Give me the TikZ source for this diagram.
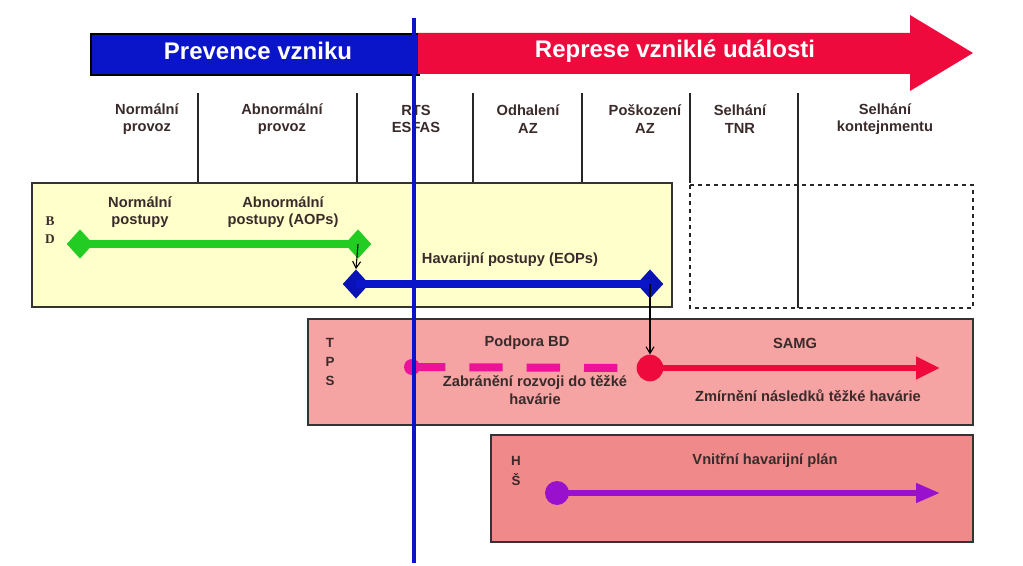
\documentclass[tikz,border=0pt]{standalone}
\usepackage{fontspec}
\setmainfont{Liberation Sans}
\newfontfamily\serifx{Liberation Serif}
\usetikzlibrary{arrows.meta,shapes.geometric}
\definecolor{yel}{HTML}{FFFFCC}
\definecolor{pinkbox}{HTML}{F5A3A3}
\definecolor{hsbox}{HTML}{F08A8A}
\definecolor{redar}{HTML}{EE0A3C}
\definecolor{magd}{HTML}{EE1199}
\definecolor{purp}{HTML}{9911CC}
\definecolor{greenl}{HTML}{22CC22}
\definecolor{bluel}{HTML}{0A14C8}
\definecolor{txt}{HTML}{3A2A2A}
\begin{document}
\begin{tikzpicture}[x=0.75pt,y=-0.75pt,
  lbl/.style={font=\bfseries\fontsize{11}{13}\selectfont,text=txt,align=center},
  sep/.style={line width=1.2pt,black!85},
  box/.style={draw=black!80,line width=1.8pt},
  dmd/.style={diamond,minimum width=20pt,minimum height=22pt,inner sep=0pt},
  dot/.style={circle,inner sep=0pt,minimum size=#1}]
\useasboundingbox (0,0) rectangle (1023,566);
% header
\node[draw=black,line width=1.2pt,fill=bluel,minimum width=328*0.75pt,minimum height=41*0.75pt,anchor=north west,inner sep=0pt] (prev) at (90,33) {};
\node[text=white,font=\bfseries\fontsize{18}{20}\selectfont] (prevt) at (258,51) {Prevence vzniku};
\fill[redar] (418,33) -- (910,33) -- (910,15) -- (973,53) -- (910,91) -- (910,74) -- (418,74) -- cycle;
\node[text=white,font=\bfseries\fontsize{18}{20}\selectfont] (rept) at (675,51) {Represe vzniklé události};
% columns
\foreach \x in {198,357,473,582,690} \draw[sep] (\x,93) -- (\x,183);
\draw[sep] (798,93) -- (798,308);
\node[lbl] (c1) at (147,119) {Normální\\provoz};
\node[lbl] (c2) at (282,119) {Abnormální\\provoz};
\node[lbl] (c3) at (416,119) {RTS\\ESFAS};
\node[lbl] (c4) at (528,119) {Odhalení\\AZ};
\node[lbl] (c5) at (645,119) {Poškození\\AZ};
\node[lbl] (c6) at (740,119) {Selhání\\TNR};
\node[lbl] (c7) at (885,119) {Selhání\\kontejnmentu};
% BD
\draw[box,fill=yel] (32,183) rectangle (672,307);
\draw[line width=1.8pt,dashed,black!85] (690,185) rectangle (973,308);
\node[font=\serifx\bfseries\fontsize{10}{14}\selectfont,text=txt,align=center] (bd) at (50,230) {B\\D};
\node[lbl] (np) at (140,212) {Normální\\postupy};
\node[lbl] (ap) at (283,212) {Abnormální\\postupy (AOPs)};
\node[dmd,fill=greenl] (g1) at (80,244) {};
\node[dmd,fill=greenl] (g2) at (358,244) {};
\draw[greenl,line width=6pt] (g1.center) -- (g2.center);
\node[dmd,fill=bluel!90!black] (b1) at (356,284) {};
\node[dmd,fill=bluel!90!black] (b2) at (650,284) {};
\draw[bluel,line width=6pt] (b1.center) -- (b2.center);
\node[lbl] (eop) at (510,260) {Havarijní postupy (EOPs)};
\draw[-{Straight Barb[length=5pt,width=6pt]},black,line width=0.8pt] (g2.center) -- (b1.north);
% TPS
\draw[box,fill=pinkbox] (308,319) rectangle (973,425);
\node[lbl,font=\bfseries\fontsize{10}{14.5}\selectfont] (tps) at (330,362) {T\\P\\S};
\node[lbl] (pbd) at (527,343) {Podpora BD};
\node[lbl] (samg) at (795,343) {SAMG};
\node[dot=12pt,fill=magd] (m1) at (412,367) {};
\node[dot=20pt,fill=redar] (r1) at (650,368) {};
\draw[magd,line width=6pt,dash pattern=on 25pt off 18pt] (m1.center) -- (r1.west);
\draw[redar,line width=5pt,-{Triangle[length=18pt,width=16pt]}] (r1.center) -- (940,368);
\draw[-{Straight Barb[length=5pt,width=6pt]},black,line width=0.8pt] (b2.center) -- (r1.north);
\node[lbl] (zab) at (535,390) {Zabránění rozvoji do těžké\\havárie};
\node[lbl] (zmi) at (808,396) {Zmírnění následků těžké havárie};
% HS
\draw[box,fill=hsbox] (491,435) rectangle (973,542);
\node[lbl,font=\bfseries\fontsize{10}{14.5}\selectfont] (hs) at (516,471) {H\\Š};
\node[lbl] (vhp) at (765,461) {Vnitřní havarijní plán};
\node[dot=18pt,fill=purp] (p1) at (557,493) {};
\draw[purp,line width=4pt,-{Triangle[length=18pt,width=14pt]}] (p1.center) -- (940,493);
% blue vertical
\draw[bluel,line width=3.5pt] (414,18) -- (414,563);
\end{tikzpicture}
\end{document}
